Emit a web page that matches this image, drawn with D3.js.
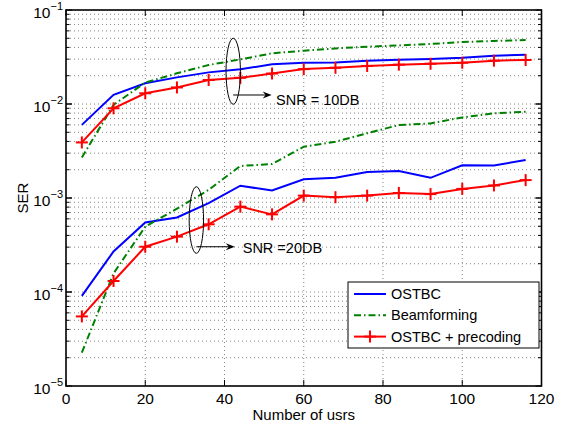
<!DOCTYPE html>
<html><head><meta charset="utf-8">
<script src="https://cdn.jsdelivr.net/npm/d3@7"></script>
<style>body{margin:0;background:#fff}svg{display:block}text{font-family:"Liberation Sans",Arial,sans-serif}</style>
</head><body><svg id="c" width="561" height="425"></svg>
<script>
const users = [4,12,20,28,36,44,52,60,68,76,84,92,100,108,116];
const ostbc10 = [0.0060,0.0125,0.0166,0.0192,0.0217,0.0234,0.0264,0.0275,0.0277,0.0289,0.0296,0.0301,0.0311,0.0327,0.0335];
const beam10  = [0.0027,0.0098,0.0169,0.0212,0.0260,0.0298,0.0346,0.0369,0.0390,0.0407,0.0420,0.0435,0.0457,0.0468,0.0480];
const prec10  = [0.0039,0.0090,0.0130,0.0150,0.0180,0.0190,0.0211,0.0235,0.0243,0.0254,0.0262,0.0268,0.0275,0.0289,0.0294];
const ostbc20 = [9.1e-5,2.7e-4,5.5e-4,6.2e-4,8.8e-4,1.35e-3,1.20e-3,1.58e-3,1.64e-3,1.89e-3,1.94e-3,1.64e-3,2.23e-3,2.22e-3,2.54e-3];
const beam20  = [2.26e-5,1.58e-4,4.95e-4,7.7e-4,1.22e-3,2.19e-3,2.30e-3,3.51e-3,3.97e-3,4.88e-3,5.98e-3,6.22e-3,7.2e-3,7.95e-3,8.28e-3];
const prec20  = [5.5e-5,1.31e-4,3.03e-4,3.88e-4,5.25e-4,8.09e-4,6.7e-4,1.06e-3,1.02e-3,1.06e-3,1.13e-3,1.10e-3,1.25e-3,1.36e-3,1.55e-3];
const xTicks = [0,20,40,60,80,100,120];
const yExps = [-5,-4,-3,-2,-1];
const legendLabels = ["OSTBC","Beamforming","OSTBC + precoding"];

const svg = d3.select("#c");
const L=66,R=541.5,T=10,B=386;
const x = d3.scaleLinear().domain([0,120]).range([L,R]);
const y = d3.scaleLog().domain([1e-5,1e-1]).range([B,T]);

// grid
const minorY = [];
for (let e=-5;e<-1+1;e++){ for(let k=1;k<10;k++){ const v=k*Math.pow(10,e); if(v>1e-5 && v<1e-1) minorY.push(v);} }
const g = svg.append("g");
g.selectAll(".gy").data(minorY).enter().append("line")
 .attr("x1",L).attr("x2",R).attr("y1",d=>y(d)).attr("y2",d=>y(d))
 .attr("stroke","#666").attr("stroke-width",0.8).attr("stroke-dasharray","1,3");
g.selectAll(".gx").data(xTicks.slice(1,-1)).enter().append("line")
 .attr("y1",T).attr("y2",B).attr("x1",d=>x(d)).attr("x2",d=>x(d))
 .attr("stroke","#666").attr("stroke-width",0.8).attr("stroke-dasharray","1,3");

// ticks on all sides
const tk = svg.append("g").attr("stroke","#000").attr("stroke-width",1);
xTicks.forEach(v=>{
  tk.append("line").attr("x1",x(v)).attr("x2",x(v)).attr("y1",B).attr("y2",B-6);
  tk.append("line").attr("x1",x(v)).attr("x2",x(v)).attr("y1",T).attr("y2",T+6);
});
minorY.forEach(v=>{
  const major = Math.abs(Math.log10(v)-Math.round(Math.log10(v)))<1e-9;
  const len = major?6:3.5;
  tk.append("line").attr("x1",L).attr("x2",L+len).attr("y1",y(v)).attr("y2",y(v));
  tk.append("line").attr("x1",R).attr("x2",R-len).attr("y1",y(v)).attr("y2",y(v));
});
yExps.forEach(e=>{
  const v=Math.pow(10,e);
  tk.append("line").attr("x1",L).attr("x2",L+6).attr("y1",y(v)).attr("y2",y(v));
  tk.append("line").attr("x1",R).attr("x2",R-6).attr("y1",y(v)).attr("y2",y(v));
});

// tick labels
svg.append("g").selectAll("text").data(xTicks).enter().append("text")
 .attr("x",d=>x(d)).attr("y",403.5).attr("text-anchor","middle").attr("font-size",15.5).text(d=>d);
const yl = svg.append("g");
yExps.forEach(e=>{
  const t = yl.append("text").attr("x",63).attr("y",y(Math.pow(10,e))+7.5).attr("text-anchor","end").attr("font-size",15.5);
  t.append("tspan").text("10");
  t.append("tspan").attr("font-size",11).attr("dy",-8).text("\u2212"+(-e));
});

// axis labels
svg.append("text").attr("x",(L+R)/2).attr("y",420).attr("text-anchor","middle").attr("font-size",15).text("Number of usrs");
svg.append("text").attr("transform","translate(28,"+((T+B)/2)+") rotate(-90)").attr("text-anchor","middle").attr("font-size",15).text("SER");

// series
const line = d3.line().x((d,i)=>x(users[i])).y(d=>y(d));
const styles = {
  blue:{stroke:"#0000ff",dash:null},
  green:{stroke:"#008000",dash:"7,3,1.5,3"},
  red:{stroke:"#ff0000",dash:null}
};
function draw(data,st){
  svg.append("path").datum(data).attr("d",line).attr("fill","none")
   .attr("stroke",st.stroke).attr("stroke-width",2).attr("stroke-dasharray",st.dash);
}
function plus(gp,cx,cy){
  gp.append("line").attr("x1",cx-6).attr("x2",cx+6).attr("y1",cy).attr("y2",cy);
  gp.append("line").attr("x1",cx).attr("x2",cx).attr("y1",cy-6).attr("y2",cy+6);
}
[[ostbc10,"blue"],[beam10,"green"],[prec10,"red"],[ostbc20,"blue"],[beam20,"green"],[prec20,"red"]].forEach(([d,c])=>draw(d,styles[c]));
const mk = svg.append("g").attr("stroke","#ff0000").attr("stroke-width",2);
[prec10,prec20].forEach(d=>d.forEach((v,i)=>plus(mk,x(users[i]),y(v))));

// annotations
const an = svg.append("g").attr("stroke","#000").attr("fill","none").attr("stroke-width",1);
function annot(cxv,cyv,ry,ay,ax2,label,tx,ty){
  an.append("ellipse").attr("cx",x(cxv)).attr("cy",y(cyv)).attr("rx",7.2).attr("ry",ry);
  an.append("line").attr("x1",x(cxv)).attr("x2",x(ax2)-5).attr("y1",y(ay)).attr("y2",y(ay));
  const px=x(ax2), py=y(ay);
  svg.append("path").attr("d",`M${px},${py}L${px-9},${py-3.5}L${px-6},${py}L${px-9},${py+3.5}Z`).attr("fill","#000");
  svg.append("text").attr("x",x(tx)).attr("y",ty).attr("font-size",14.5).text(label);
}
annot(42.2,0.0223,33,0.01247,51.9,"SNR = 10DB",53.0,105);
annot(32.9,5.83e-4,33.3,3.03e-4,42.6,"SNR =20DB",44.6,252.7);

// frame
svg.append("rect").attr("x",L).attr("y",T).attr("width",R-L).attr("height",B-T)
 .attr("fill","none").attr("stroke","#000").attr("stroke-width",1.6);

// legend
const lg = svg.append("g");
lg.append("rect").attr("x",348).attr("y",282).attr("width",191).attr("height",66)
 .attr("fill","#fff").attr("stroke","#000").attr("stroke-width",1);
const lcols = ["blue","green","red"];
legendLabels.forEach((lab,i)=>{
  const yy = 294+i*21.3;
  const st = styles[lcols[i]];
  lg.append("line").attr("x1",354).attr("x2",386).attr("y1",yy).attr("y2",yy)
   .attr("stroke",st.stroke).attr("stroke-width",2).attr("stroke-dasharray",st.dash);
  if(lcols[i]==="red"){ const m=lg.append("g").attr("stroke","#ff0000").attr("stroke-width",2); plus(m,370,yy); }
  lg.append("text").attr("x",391).attr("y",yy+5).attr("font-size",14.5).text(lab);
});
</script></body></html>
